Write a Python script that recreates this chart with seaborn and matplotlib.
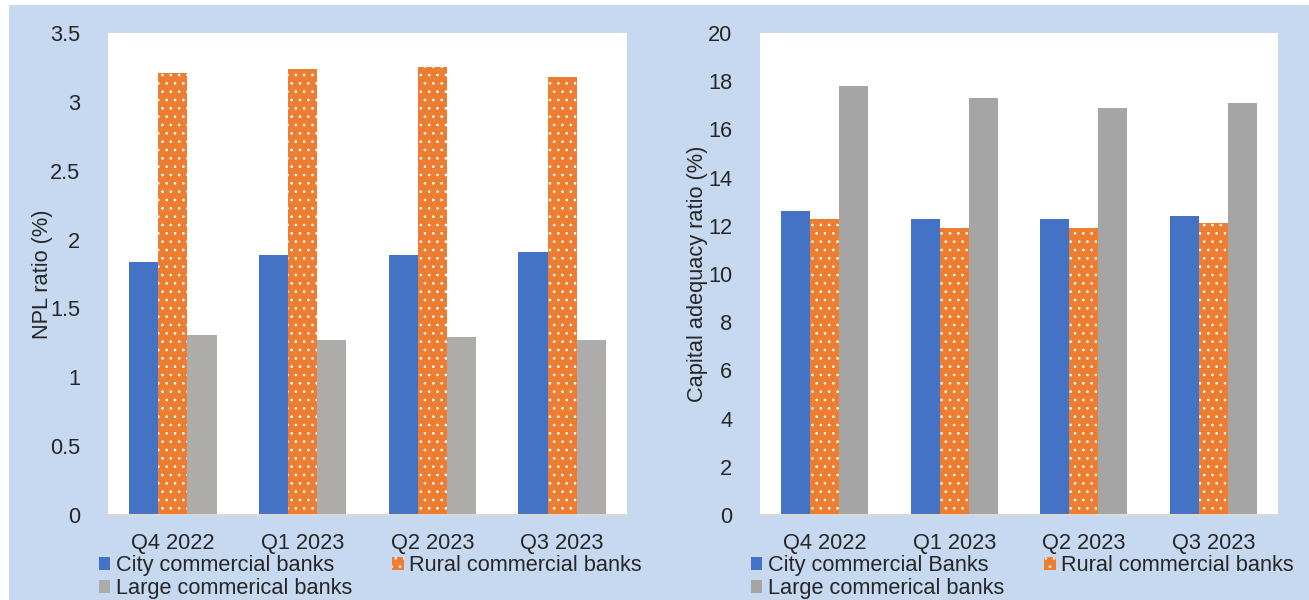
import matplotlib
matplotlib.use("Agg")
import matplotlib.pyplot as plt
import matplotlib.patches as mpatches
from matplotlib.ticker import MultipleLocator, FuncFormatter
import seaborn as sns
import pandas as pd

quarters = ["Q4 2022", "Q1 2023", "Q2 2023", "Q3 2023"]

npl_series = ["City commercial banks", "Rural commercial banks", "Large commerical banks"]
npl_city = [1.84, 1.89, 1.89, 1.91]
npl_rural = [3.21, 3.24, 3.25, 3.18]
npl_large = [1.31, 1.27, 1.29, 1.27]

car_series = ["City commercial Banks", "Rural commercial banks", "Large commerical banks"]
car_city = [12.6, 12.3, 12.3, 12.4]
car_rural = [12.3, 11.9, 11.9, 12.1]
car_large = [17.8, 17.3, 16.9, 17.1]

BLUE = "#4472C4"
ORANGE = "#ED7D31"
GREY_L = "#AEABAB"
GREY_R = "#A5A5A5"
BG = "#C6D9F0"
TXT = "#262626"
FS = 15.7

sns.set_theme(style="white")
plt.rcParams["font.family"] = ["Liberation Sans", "DejaVu Sans"]
plt.rcParams["hatch.color"] = "white"
plt.rcParams["hatch.linewidth"] = 0.7

fig = plt.figure(figsize=(13.09, 6.0), dpi=100, facecolor=BG)
# white strips at top and left edge
fig.patches.append(mpatches.Rectangle((0, 1 - 5 / 600), 1, 5 / 600, transform=fig.transFigure,
                                      facecolor="white", edgecolor="none", zorder=-1))
fig.patches.append(mpatches.Rectangle((0, 0), 9 / 1309, 1, transform=fig.transFigure,
                                      facecolor="white", edgecolor="none", zorder=-1))

ax1 = fig.add_axes([108 / 1309, 85 / 600, 519 / 1309, 482 / 600])
ax2 = fig.add_axes([760 / 1309, 85 / 600, 518 / 1309, 482 / 600])


def make_df(series, a, b, c):
    rows = []
    for s, vals in zip(series, [a, b, c]):
        for q, v in zip(quarters, vals):
            rows.append({"quarter": q, "bank": s, "value": v})
    return pd.DataFrame(rows)


def draw(ax, series, vals, grey, ymax, step, ylabel, xlab):
    df = make_df(series, *vals)
    sns.barplot(data=df, x="quarter", y="value", hue="bank", order=quarters, hue_order=series,
                palette=[BLUE, ORANGE, grey], width=0.675, gap=0, saturation=1,
                legend=False, ax=ax, edgecolor="none", linewidth=0)
    for p in ax.containers[1].patches:
        p.set_hatch("..")
        p.set_edgecolor("white")
        p.set_linewidth(0)
    ax.set_facecolor("white")
    ax.set_xlim(-0.5, 3.5)
    ax.set_ylim(0, ymax)
    ax.yaxis.set_major_locator(MultipleLocator(step))
    ax.yaxis.set_major_formatter(FuncFormatter(lambda v, p: f"{v:g}"))
    for s in ["top", "right", "left"]:
        ax.spines[s].set_visible(False)
    ax.spines["bottom"].set_color("#D9D9D9")
    ax.spines["bottom"].set_linewidth(1.5)
    ax.tick_params(axis="both", length=0, labelsize=FS, labelcolor=TXT)
    ax.tick_params(axis="y", pad=20)
    ax.tick_params(axis="x", pad=13)
    ax.set_xlabel("")
    ax.set_ylabel(ylabel, fontsize=FS, color=TXT, va="center")
    ax.yaxis.set_label_coords(xlab, 0.5)
    ax.grid(False)


draw(ax1, npl_series, (npl_city, npl_rural, npl_large), GREY_L, 3.5, 0.5, "NPL ratio (%)", -0.127)
draw(ax2, car_series, (car_city, car_rural, car_large), GREY_R, 20, 2, "Capital adequacy ratio (%)", -0.12)


def add_legend(ax, series, x_px):
    c = list(ax.containers)
    # column-major fill: col1 = City, Large ; col2 = Rural  -> reads row-wise like the reference
    handles = [c[0], c[2], c[1]]
    labels = [series[0], series[2], series[1]]
    leg = fig.legend(handles, labels, loc="upper left",
                     bbox_to_anchor=(x_px / 1309, 1 - 555 / 600), bbox_transform=fig.transFigure,
                     ncol=2, frameon=False, fontsize=FS, borderpad=0, borderaxespad=0,
                     handlelength=0.52, handleheight=0.52, handletextpad=0.25,
                     labelspacing=0.1, columnspacing=1.85)
    for t in leg.get_texts():
        t.set_color(TXT)
    return leg


add_legend(ax1, npl_series, 99)
add_legend(ax2, car_series, 751)

fig.savefig("out.png", dpi=100, facecolor=BG)
